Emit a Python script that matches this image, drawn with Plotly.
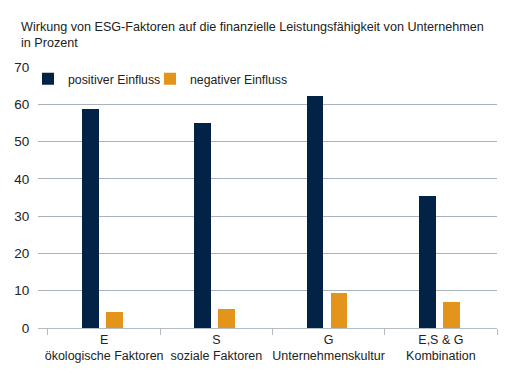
import plotly.graph_objects as go

categories = ["E<br>ökologische Faktoren", "S<br>soziale Faktoren",
              "G<br>Unternehmenskultur", "E,S & G<br>Kombination"]
positiv = [58.7, 55.1, 62.3, 35.4]
negativ = [4.4, 5.2, 9.3, 7.1]
y_ticks = [0, 10, 20, 30, 40, 50, 60, 70]

fig = go.Figure()
fig.add_trace(go.Bar(x=categories, y=positiv, name="positiver Einfluss",
                     marker=dict(color="#022346", line=dict(width=0)),
                     width=0.15, offset=-0.196, legend="legend"))
fig.add_trace(go.Bar(x=categories, y=negativ, name="negativer Einfluss",
                     marker=dict(color="#e3941b", line=dict(width=0)),
                     width=0.15, offset=0.018, legend="legend2"))

legend_style = dict(orientation="h", xanchor="left", y=1.0103, yanchor="top",
                    bgcolor="rgba(0,0,0,0)", font=dict(size=12.3))

fig.update_layout(
    template="none",
    width=518, height=385,
    margin=dict(l=38, r=21, t=67, b=57, autoexpand=False),
    paper_bgcolor="white", plot_bgcolor="white",
    font=dict(family="Liberation Sans, Arial, sans-serif", size=13, color="#222222"),
    title=dict(text="Wirkung von ESG-Faktoren auf die finanzielle Leistungsfähigkeit von Unternehmen<br>in Prozent",
               x=21/518, xanchor="left", xref="container",
               y=1-31/385, yanchor="top", yref="container",
               pad=dict(l=0, r=0, t=0, b=0),
               font=dict(size=12.6, color="#222222")),
    showlegend=True,
    legend=dict(x=-0.0218, **legend_style),
    legend2=dict(x=0.2440, **legend_style),
    bargap=0, barmode="group",
)
fig.update_xaxes(range=[-0.589, 3.5], showgrid=False, showline=True, linecolor="#b4bcc4",
                 linewidth=1, ticks="outside", tickson="boundaries", ticklen=6,
                 tickcolor="#b4bcc4", tickfont=dict(size=12.5), tickangle=0,
                 automargin=False)
fig.update_yaxes(range=[0, 70], tickvals=y_ticks, showgrid=True, gridcolor="#a9b3bb",
                 gridwidth=1, zeroline=False, showline=False, ticks="outside",
                 ticklen=5, tickcolor="rgba(0,0,0,0)", tickfont=dict(size=13.5),
                 automargin=False)

fig.write_html("out.html", config={"displayModeBar": False},
               post_script="document.body.style.margin='0px';document.body.style.padding='0px';")
